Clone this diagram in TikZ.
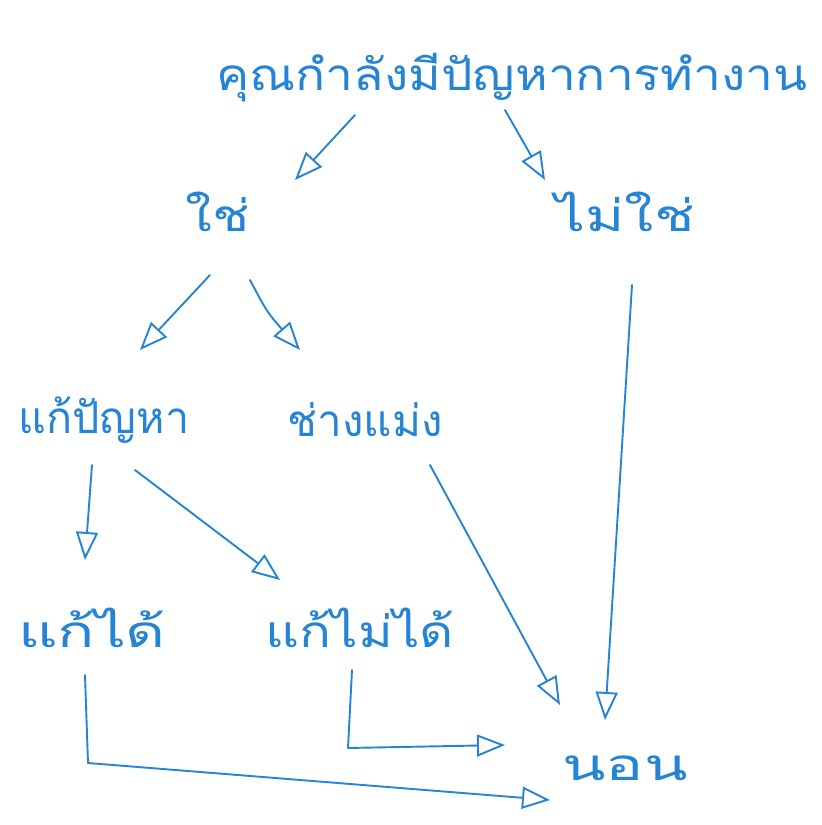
\documentclass[tikz,border=0pt]{standalone}
\usepackage{fontspec}
\newfontfamily\thaifont[Script=Thai]{Loma}
\usetikzlibrary{arrows.meta,calc}
\definecolor{pen}{RGB}{38,132,212}
\begin{document}
\begin{tikzpicture}[x=1pt,y=-1pt,
  lbl/.style={text=pen,font=\thaifont\fontsize{44}{48}\selectfont,inner sep=0pt},
  arr/.style={draw=pen,line width=1.9pt,line cap=round,line join=round,
    -{Triangle[open,length=28pt,width=22pt,line width=1.9pt]}}]
\useasboundingbox[fill=white] (0,0) rectangle (822,825);
\node[lbl,xscale=1.13] (top) at (512,78) {คุณกำลังมีปัญหาการทำงาน};
\node[lbl,xscale=1.25] (yes) at (218,212) {ใช่};
\node[lbl,xscale=1.36] (no) at (625,212) {ไม่ใช่};
\node[lbl,xscale=0.98] (solve) at (104,420) {แก้ปัญหา};
\node[lbl,xscale=1.0] (forget) at (365,420) {ช่างแม่ง};
\node[lbl,xscale=1.4] (can) at (92,628) {แก้ได้};
\node[lbl,xscale=1.2] (cannot) at (360,628) {แก้ไม่ได้};
\node[lbl,xscale=1.45] (sleep) at (625,768) {นอน};
\draw[arr] ($(top)+(-157,37)$) -- ($(yes)+(77,-32)$);
\draw[arr] ($(top)+(-7,32)$) -- ($(no)+(-80,-32)$);
\draw[arr] ($(yes)+(-8,63)$) -- ($(solve)+(36,-70)$);
\draw[arr] ($(yes)+(32,68)$) .. controls ($(yes)+(49,100)$) .. ($(forget)+(-65,-70)$);
\draw[arr] ($(solve)+(-12,45)$) -- ($(can)+(-7,-68)$);
\draw[arr] ($(solve)+(31,50)$) -- ($(cannot)+(-80,-48)$);
\draw[arr] ($(forget)+(65,45)$) -- ($(sleep)+(-65,-63)$);
\draw[arr] ($(no)+(7,73)$) -- ($(sleep)+(-20,-48)$);
\draw[arr] ($(cannot)+(-8,42)$) -- ++(-4,78) -- ($(sleep)+(-120,-23)$);
\draw[arr] ($(can)+(-7,47)$) -- ++(3,88) -- ($(sleep)+(-75,32)$);
\end{tikzpicture}
\end{document}
